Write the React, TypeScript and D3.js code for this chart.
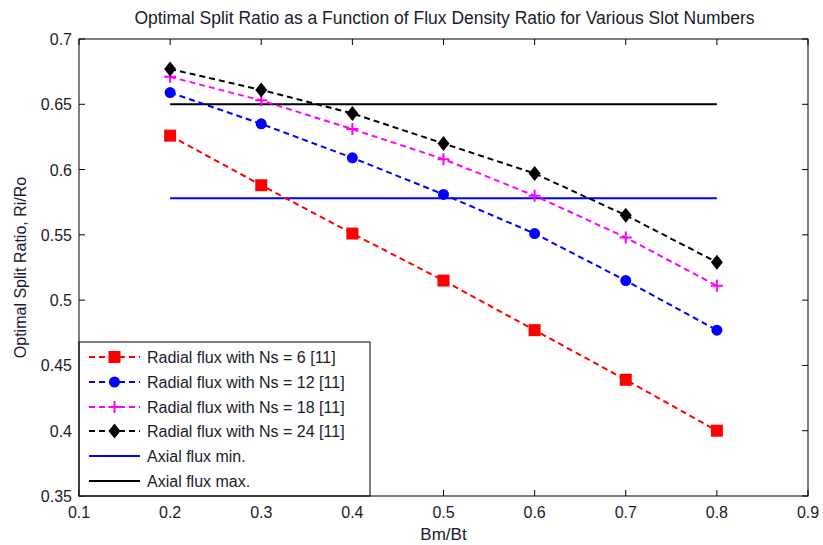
import React, { useEffect, useRef } from 'react';
import * as d3 from 'd3';

// data
const bmBt = [0.2, 0.3, 0.4, 0.5, 0.6, 0.7, 0.8];
const ns6 = [0.626, 0.588, 0.551, 0.515, 0.477, 0.439, 0.4];
const ns12 = [0.659, 0.635, 0.609, 0.581, 0.551, 0.515, 0.477];
const ns18 = [0.671, 0.653, 0.631, 0.608, 0.58, 0.548, 0.511];
const ns24 = [0.677, 0.661, 0.643, 0.62, 0.597, 0.565, 0.529];
const axialMin = 0.578;
const axialMax = 0.65;
const xTicks = [0.1, 0.2, 0.3, 0.4, 0.5, 0.6, 0.7, 0.8, 0.9];
const yTicks = [0.35, 0.4, 0.45, 0.5, 0.55, 0.6, 0.65, 0.7];

const radialSeries = [
  { name: 'Radial flux with Ns = 6 [11]', values: ns6, color: '#ff0000', marker: 'square' },
  { name: 'Radial flux with Ns = 12 [11]', values: ns12, color: '#0000ff', marker: 'circle' },
  { name: 'Radial flux with Ns = 18 [11]', values: ns18, color: '#ff00ff', marker: 'plus' },
  { name: 'Radial flux with Ns = 24 [11]', values: ns24, color: '#000000', marker: 'diamond' },
];
const axialSeries = [
  { name: 'Axial flux min.', value: axialMin, color: '#0000ff' },
  { name: 'Axial flux max.', value: axialMax, color: '#000000' },
];

const W = 823;
const H = 545;
const margin = { top: 39, right: 15, bottom: 49, left: 79 };

function drawMarker(g: any, kind: string, x: number, y: number, color: string) {
  if (kind === 'square') {
    g.append('rect').attr('x', x - 6).attr('y', y - 6).attr('width', 12).attr('height', 12).attr('fill', color);
  } else if (kind === 'circle') {
    g.append('circle').attr('cx', x).attr('cy', y).attr('r', 5.5).attr('fill', color);
  } else if (kind === 'plus') {
    g.append('path')
      .attr('d', `M${x - 6},${y}H${x + 6}M${x},${y - 6}V${y + 6}`)
      .attr('stroke', color).attr('stroke-width', 2).attr('fill', 'none');
  } else {
    g.append('path')
      .attr('d', `M${x},${y - 7.5}L${x + 6},${y}L${x},${y + 7.5}L${x - 6},${y}Z`)
      .attr('fill', color);
  }
}

export default function App() {
  const ref = useRef<SVGSVGElement>(null);

  useEffect(() => {
    const svg = d3.select(ref.current);
    svg.selectAll('*').remove();

    const x = d3.scaleLinear().domain([0.1, 0.9]).range([margin.left, W - margin.right]);
    const y = d3.scaleLinear().domain([0.35, 0.7]).range([H - margin.bottom, margin.top]);
    const font = 'Liberation Sans, Arial, sans-serif';
    const textColor = '#1a1a2e';

    svg.append('rect').attr('width', W).attr('height', H).attr('fill', '#fff');

    // axial flux lines
    axialSeries.forEach(s => {
      svg.append('line')
        .attr('x1', x(0.2)).attr('x2', x(0.8))
        .attr('y1', y(s.value)).attr('y2', y(s.value))
        .attr('stroke', s.color).attr('stroke-width', 2);
    });

    // radial flux series
    const line = d3.line<number>().x((d, i) => x(bmBt[i])).y(d => y(d));
    radialSeries.forEach(s => {
      svg.append('path')
        .attr('d', line(s.values))
        .attr('fill', 'none')
        .attr('stroke', s.color)
        .attr('stroke-width', 2)
        .attr('stroke-dasharray', '6,4');
      const g = svg.append('g');
      s.values.forEach((v, i) => drawMarker(g, s.marker, x(bmBt[i]), y(v), s.color));
    });

    // axes box with inward ticks
    const bottom = H - margin.bottom;
    const top = margin.top;
    const left = margin.left;
    const right = W - margin.right;
    const axisG = svg.append('g').attr('stroke', '#000').attr('stroke-width', 1);
    xTicks.forEach(t => {
      axisG.append('line').attr('x1', x(t)).attr('x2', x(t)).attr('y1', bottom).attr('y2', bottom - 6);
      axisG.append('line').attr('x1', x(t)).attr('x2', x(t)).attr('y1', top).attr('y2', top + 6);
    });
    yTicks.forEach(t => {
      axisG.append('line').attr('x1', left).attr('x2', left + 6).attr('y1', y(t)).attr('y2', y(t));
      axisG.append('line').attr('x1', right).attr('x2', right - 6).attr('y1', y(t)).attr('y2', y(t));
    });

    // legend
    const lg = svg.append('g');
    const lx = left;
    const ly = 342;
    const lw = 291;
    lg.append('rect').attr('x', lx).attr('y', ly).attr('width', lw).attr('height', bottom - ly)
      .attr('fill', '#fff').attr('stroke', '#000').attr('stroke-width', 1);
    const rowY = [357, 382, 407, 431, 456, 481];
    radialSeries.forEach((s, i) => {
      lg.append('line').attr('x1', lx + 10).attr('x2', lx + 61).attr('y1', rowY[i]).attr('y2', rowY[i])
        .attr('stroke', s.color).attr('stroke-width', 2).attr('stroke-dasharray', '6,4');
      drawMarker(lg, s.marker, lx + 35.5, rowY[i], s.color);
      lg.append('text').attr('x', lx + 68).attr('y', rowY[i] + 6)
        .attr('font-family', font).attr('font-size', 16).attr('fill', textColor).text(s.name);
    });
    axialSeries.forEach((s, j) => {
      const i = j + 4;
      lg.append('line').attr('x1', lx + 10).attr('x2', lx + 61).attr('y1', rowY[i]).attr('y2', rowY[i])
        .attr('stroke', s.color).attr('stroke-width', 2);
      lg.append('text').attr('x', lx + 68).attr('y', rowY[i] + 6)
        .attr('font-family', font).attr('font-size', 16).attr('fill', textColor).text(s.name);
    });

    svg.append('rect').attr('x', left).attr('y', top).attr('width', right - left).attr('height', bottom - top)
      .attr('fill', 'none').attr('stroke', '#000').attr('stroke-width', 1);

    // tick labels
    svg.append('g').selectAll('text').data(xTicks).enter().append('text')
      .attr('x', d => x(d)).attr('y', bottom + 22)
      .attr('text-anchor', 'middle').attr('font-family', font).attr('font-size', 16).attr('fill', textColor)
      .text(d => d3.format('.1f')(d));
    svg.append('g').selectAll('text').data(yTicks).enter().append('text')
      .attr('x', left - 7).attr('y', d => y(d) + 6)
      .attr('text-anchor', 'end').attr('font-family', font).attr('font-size', 16).attr('fill', textColor)
      .text(d => String(d));

    // titles
    svg.append('text').attr('x', (left + right) / 2 + 1).attr('y', 24)
      .attr('text-anchor', 'middle').attr('font-family', font).attr('font-size', 17.5).attr('fill', textColor)
      .text('Optimal Split Ratio as a Function of Flux Density Ratio for Various Slot Numbers');
    svg.append('text').attr('x', (left + right) / 2).attr('y', 540)
      .attr('text-anchor', 'middle').attr('font-family', font).attr('font-size', 17).attr('fill', textColor)
      .text('Bm/Bt');
    svg.append('text')
      .attr('transform', `translate(26,${(top + bottom) / 2}) rotate(-90)`)
      .attr('text-anchor', 'middle').attr('font-family', font).attr('font-size', 16).attr('fill', textColor)
      .text('Optimal Split Ratio, Ri/Ro');
  }, []);

  return (
    <svg ref={ref} width={W} height={H}
      style={{ position: 'absolute', left: 0, top: 0, display: 'block' }} />
  );
}
